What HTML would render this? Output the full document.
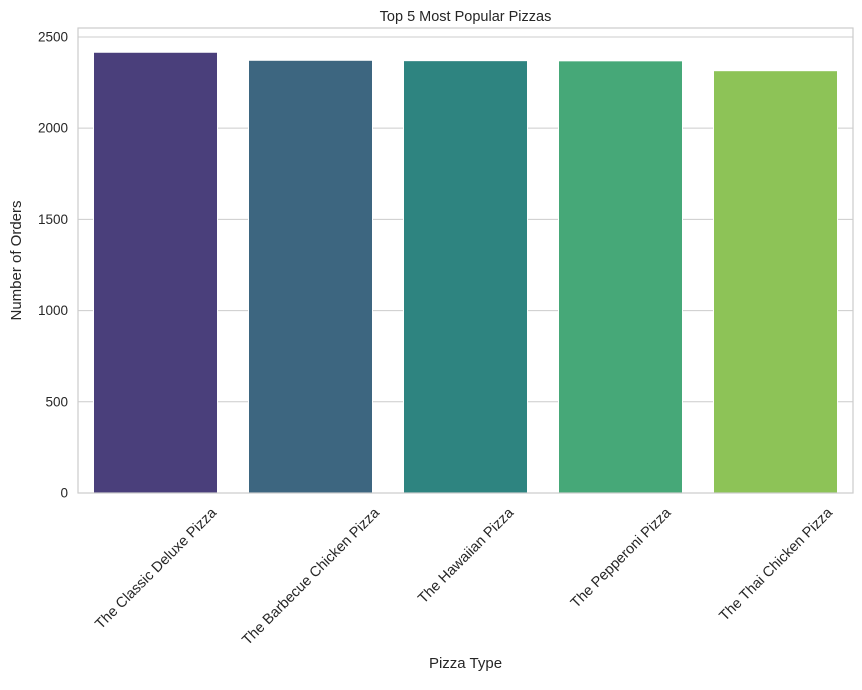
<!DOCTYPE html>
<html><head><meta charset="utf-8">
<style>
body{margin:0;background:#fff;font-family:"Liberation Sans",sans-serif;}
svg text{font-family:"Liberation Sans",sans-serif;fill:#262626;}
</style></head>
<body>
<svg id="chart" width="862" height="685" viewBox="0 0 862 685" xmlns="http://www.w3.org/2000/svg"></svg>
<script>
const categories = ["The Classic Deluxe Pizza","The Barbecue Chicken Pizza","The Hawaiian Pizza","The Pepperoni Pizza","The Thai Chicken Pizza"];
const orders = [2416, 2372, 2370, 2369, 2315];
const colors = ["#4a3f7b","#3d6680","#2e8480","#46a878","#8dc357"];
const yTicks = [0, 500, 1000, 1500, 2000, 2500];

const NS = "http://www.w3.org/2000/svg";
const svg = document.getElementById("chart");
const L = 78, R = 853, T = 28, B = 493;
const yMax = 2549;
const y = v => B - (v / yMax) * (B - T);
const band = (R - L) / categories.length;
const x = i => L + band * i;
const bw = band * 0.8;

function mk(tag, attrs) {
  const e = document.createElementNS(NS, tag);
  for (const k in attrs) e.setAttribute(k, attrs[k]);
  svg.appendChild(e);
  return e;
}

yTicks.forEach(t => {
  const g = mk("line", {x1: L, x2: R, y1: y(t), y2: y(t), stroke: "#cccccc", "stroke-width": 1});
  
  
  const lb = mk("text", {x: L - 10, y: y(t) + 4.5, "text-anchor": "end", "font-size": 13.5});
  lb.textContent = t;
  
  
});

orders.forEach((v, i) => {
  const b = mk("rect", {x: x(i) + (band - bw) / 2, y: y(v), width: bw, height: B - y(v), fill: colors[i], stroke: "#ffffff", "stroke-width": 1});
  
  
  const cx = x(i) + band / 2;
  const lb = mk("text", {x: 0, y: 0, "text-anchor": "middle", "font-size": 14.5});
  lb.textContent = categories[i];
  
  
  const w = lb.getComputedTextLength();
  const h = 14;
  const half = (w + h) * 0.7071 / 2;
  const cy = B + 12 + half;
  lb.setAttribute("x", cx);
  lb.setAttribute("y", cy + 5);
  lb.setAttribute("transform", `rotate(-45 ${cx} ${cy})`);
});

const fr = mk("rect", {x: L, y: T, width: R - L, height: B - T, fill: "none", stroke: "#cccccc", "stroke-width": 1.2});



const title = mk("text", {x: (L + R) / 2, y: 21, "text-anchor": "middle", "font-size": 14.5});
title.textContent = "Top 5 Most Popular Pizzas";



const xt = mk("text", {x: (L + R) / 2, y: 668, "text-anchor": "middle", "font-size": 15});
xt.textContent = "Pizza Type";



const yt = mk("text", {x: 21, y: (T + B) / 2, "text-anchor": "middle", "font-size": 15, transform: `rotate(-90 21 ${(T + B) / 2})`});
yt.textContent = "Number of Orders";


</script>
</body></html>
